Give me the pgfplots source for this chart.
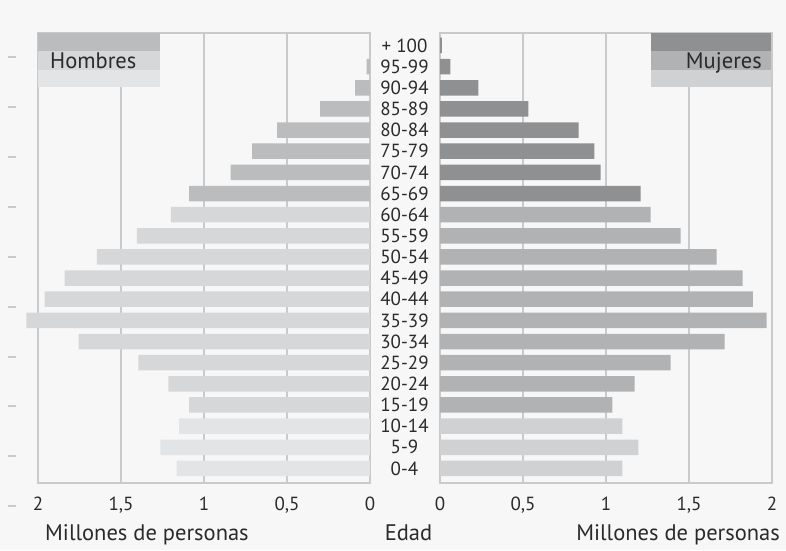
\documentclass[border=0pt]{standalone}
\usepackage{fontspec}
\setmainfont{PT Sans}
\usepackage{pgfplots}
\pgfplotsset{compat=1.18}
\definecolor{bg}{HTML}{F7F7F7}
\definecolor{gridc}{HTML}{C9CACC}
\definecolor{txt}{HTML}{2A2A2A}
\definecolor{hOld}{HTML}{BBBCBE}
\definecolor{hMid}{HTML}{D6D7D9}
\definecolor{hYng}{HTML}{E3E4E6}
\definecolor{mOld}{HTML}{8F9092}
\definecolor{mMid}{HTML}{B1B2B4}
\definecolor{mYng}{HTML}{D0D1D3}
\newcommand{\smallf}{\fontsize{19}{21}\selectfont}
\newcommand{\bigf}{\fontsize{22.5}{25}\selectfont}

\pgfplotsset{
  pyr/.style={
    scale only axis, width=332pt, height=450pt,
    xbar, bar width=15.5pt, bar shift=0pt,
    xmin=0, xmax=2, ymin=-0.69, ymax=20.59,
    clip=false,
    xtick={0,0.5,1,1.5,2},
    xticklabels={0,{0,5},1,{1,5},2},
    xmajorgrids,
    grid style={gridc, line width=1.4pt},
    axis line style={gridc, line width=1.4pt},
    major tick length=0pt,
    xticklabel style={font=\smallf, text=txt, inner sep=0pt, yshift=-13.5pt},
    axis background/.style={fill=bg},
  }
}

\begin{document}
\begin{tikzpicture}
\fill[bg] (0pt,0pt) rectangle (786pt,550pt);
% small marks at the far left
\foreach \py in {57,107,157,207,257,307,357,406,456,506}
  \draw[gridc, line width=1.2pt] (8pt,{(550-\py)*1pt}) -- (16pt,{(550-\py)*1pt});

% Hombres
\begin{axis}[pyr, at={(38pt,67pt)}, anchor=south west, x dir=reverse, ytick=\empty]
  \addplot[fill=hYng, draw=none] coordinates {(1.165,0) (1.263,1) (1.15,2)};
  \addplot[fill=hMid, draw=none] coordinates {(1.09,3) (1.215,4) (1.395,5) (1.755,6) (2.07,7)
    (1.96,8) (1.84,9) (1.646,10) (1.405,11) (1.20,12)};
  \addplot[fill=hOld, draw=none] coordinates {(1.09,13) (0.84,14) (0.71,15) (0.56,16)
    (0.30,17) (0.09,18) (0.02,19) (0,20)};
\end{axis}

% Mujeres
\begin{axis}[pyr, at={(440pt,67pt)}, anchor=south west,
    ytick={0,...,20},
    yticklabels={0-4,5-9,10-14,15-19,20-24,25-29,30-34,35-39,40-44,45-49,50-54,
      55-59,60-64,65-69,70-74,75-79,80-84,85-89,90-94,95-99,+ 100},
    yticklabel style={font=\smallf, text=txt, inner sep=0pt,
      anchor=center, xshift=-35.5pt}]
  \addplot[fill=mYng, draw=none] coordinates {(1.098,0) (1.195,1) (1.098,2)};
  \addplot[fill=mMid, draw=none] coordinates {(1.038,3) (1.173,4) (1.39,5) (1.715,6) (1.968,7)
    (1.884,8) (1.823,9) (1.667,10) (1.45,11) (1.269,12)};
  \addplot[fill=mOld, draw=none] coordinates {(1.209,13) (0.968,14) (0.93,15) (0.835,16)
    (0.532,17) (0.231,18) (0.062,19) (0.012,20)};
\end{axis}

% legend boxes
\fill[hOld] (38pt,517pt) rectangle (160pt,498.5pt);
\fill[hMid] (38pt,498.5pt) rectangle (160pt,480pt);
\fill[hYng] (38pt,480pt) rectangle (160pt,462.5pt);
\node[anchor=base west, inner sep=0pt, text=txt, font=\bigf] at (50pt,481.5pt) {Hombres};
\fill[mOld] (651pt,517pt) rectangle (771pt,498.5pt);
\fill[mMid] (651pt,498.5pt) rectangle (771pt,480pt);
\fill[mYng] (651pt,480pt) rectangle (771pt,462.5pt);
\node[anchor=base east, inner sep=0pt, text=txt, font=\bigf] at (762pt,481.5pt) {Mujeres};

% axis titles
\node[anchor=base west, inner sep=0pt, text=txt, font=\bigf] at (45pt,10pt) {Millones de personas};
\node[anchor=base east, inner sep=0pt, text=txt, font=\bigf] at (780pt,10pt) {Millones de personas};
\node[anchor=base, inner sep=0pt, text=txt, font=\bigf] at (408.5pt,10pt) {Edad};

\pgfresetboundingbox
\useasboundingbox (0pt,0pt) rectangle (786pt,550pt);
\end{tikzpicture}
\end{document}
